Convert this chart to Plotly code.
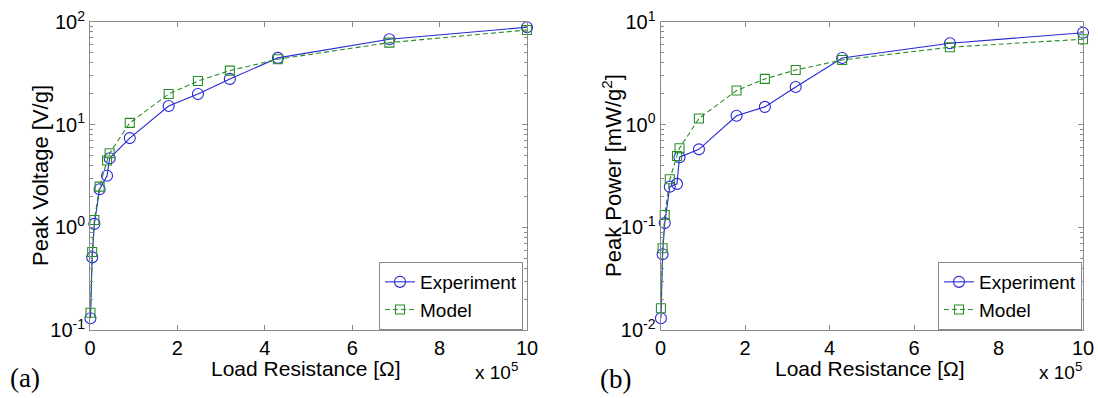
import plotly.graph_objects as go

# ---- data ----
resistance = [1e3, 5e3, 1e4, 2.2e4, 3.9e4, 4.5e4, 9.1e4, 1.8e5, 2.47e5, 3.2e5, 4.3e5, 6.85e5, 1e6]
voltage_exp = [0.13, 0.51, 1.08, 2.35, 3.18, 4.71, 7.4, 15.2, 19.9, 27.9, 44.7, 68, 89]
voltage_model = [0.147, 0.575, 1.18, 2.49, 4.47, 5.27, 10.4, 19.9, 26.6, 33.6, 43.4, 63, 83.6]
power_exp = [0.013, 0.0547, 0.11, 0.249, 0.265, 0.482, 0.575, 1.22, 1.49, 2.33, 4.46, 6.2, 7.87]
power_model = [0.0163, 0.0625, 0.132, 0.294, 0.496, 0.589, 1.15, 2.15, 2.79, 3.41, 4.27, 5.68, 6.8]

x_tickvals = [0, 2e5, 4e5, 6e5, 8e5, 1e6]
x_ticktext = ["0", "2", "4", "6", "8", "10"]

W, H = 1098, 398
FONT = "Liberation Sans, Arial, sans-serif"
SERIF = "Liberation Serif, Times New Roman, serif"
BLUE = "rgb(40,40,215)"
GREEN = "rgb(40,140,40)"
AXC = "#8a8a8a"


def px_x(p):
    return p / W


def px_y(p):
    return (H - p) / H


fig = go.Figure()

series = [
    ("x", "y", "legend", voltage_exp, voltage_model),
    ("x2", "y2", "legend2", power_exp, power_model),
]
for xa, ya, lg, exp_vals, mod_vals in series:
    fig.add_trace(go.Scatter(
        x=resistance, y=exp_vals, xaxis=xa, yaxis=ya, legend=lg,
        name="Experiment", mode="lines+markers", cliponaxis=False,
        line=dict(color=BLUE, width=1.1),
        marker=dict(symbol="circle-open", size=11, color=BLUE, line=dict(width=1.1)),
    ))
    fig.add_trace(go.Scatter(
        x=resistance, y=mod_vals, xaxis=xa, yaxis=ya, legend=lg,
        name="Model", mode="lines+markers", cliponaxis=False,
        line=dict(color=GREEN, width=1.1, dash="5px,3px"),
        marker=dict(symbol="square-open", size=9, color=GREEN, line=dict(width=1.1)),
    ))


def minor_vals(lo, hi):
    vals = []
    for k in range(lo, hi):
        for m in range(2, 10):
            vals.append(m * 10 ** k)
    return vals


def xaxis_cfg(domain, anchor):
    return dict(
        domain=domain, range=[0, 1e6], tickmode="array", anchor=anchor,
        tickvals=x_tickvals, ticktext=x_ticktext, automargin=False,
        showline=True, linecolor=AXC, linewidth=1, mirror="ticks",
        ticks="inside", ticklen=5, tickcolor=AXC, showgrid=False, zeroline=False,
        tickfont=dict(family=FONT, size=20, color="black"),
    )


def yaxis_cfg(lo, hi, anchor):
    vals = [10 ** k for k in range(lo, hi + 1)]
    txt = ["10<sup>%d</sup>" % k for k in range(lo, hi + 1)]
    return dict(
        domain=[px_y(330), px_y(22)], type="log", range=[lo, hi], anchor=anchor,
        tickmode="array", tickvals=vals, ticktext=txt, automargin=False,
        showline=True, linecolor=AXC, linewidth=1, mirror="ticks",
        ticks="inside", ticklen=5, tickcolor=AXC, showgrid=False, zeroline=False,
        tickfont=dict(family=FONT, size=20, color="black"),
        minor=dict(tickmode="array", tickvals=minor_vals(lo, hi), ticks="inside",
                   ticklen=3, tickcolor=AXC, showgrid=False),
    )


legend_style = dict(
    xanchor="right", yanchor="bottom", bgcolor="white", bordercolor=AXC, borderwidth=1,
    font=dict(family=FONT, size=19, color="black"), itemwidth=30, tracegroupgap=0,
)

fig.update_layout(
    width=W, height=H, margin=dict(l=0, r=0, t=0, b=0, autoexpand=False),
    paper_bgcolor="white", plot_bgcolor="white", showlegend=True,
    xaxis=xaxis_cfg([px_x(90), px_x(527)], "y"),
    xaxis2=xaxis_cfg([px_x(660.5), px_x(1083)], "y2"),
    yaxis=yaxis_cfg(-1, 2, "x"),
    yaxis2=yaxis_cfg(-2, 1, "x2"),
    legend=dict(x=px_x(523), y=px_y(330), **legend_style),
    legend2=dict(x=px_x(1082), y=px_y(330), **legend_style),
)

ann = []
# y titles
ann.append(dict(text="Peak Voltage [V/g]", x=px_x(40), y=px_y(176), textangle=-90,
                font=dict(family=FONT, size=22, color="black")))
ann.append(dict(text="Peak Power [mW/g<sup>2</sup>]", x=px_x(612), y=px_y(176), textangle=-90,
                font=dict(family=FONT, size=22, color="black")))
# x titles
ann.append(dict(text="Load Resistance [Ω]", x=px_x(306), y=px_y(368),
                font=dict(family=FONT, size=21, color="black")))
ann.append(dict(text="Load Resistance [Ω]", x=px_x(870), y=px_y(368),
                font=dict(family=FONT, size=21, color="black")))
# multipliers
ann.append(dict(text="x 10<sup>5</sup>", x=px_x(520), y=px_y(371), xanchor="right",
                font=dict(family=FONT, size=19, color="black")))
ann.append(dict(text="x 10<sup>5</sup>", x=px_x(1084), y=px_y(371), xanchor="right",
                font=dict(family=FONT, size=19, color="black")))
# panel labels
ann.append(dict(text="(a)", x=px_x(25), y=px_y(378),
                font=dict(family=SERIF, size=27, color="black")))
ann.append(dict(text="(b)", x=px_x(615), y=px_y(379),
                font=dict(family=SERIF, size=27, color="black")))

for a in ann:
    a.update(xref="paper", yref="paper", showarrow=False)
    a.setdefault("xanchor", "center")
    a.setdefault("yanchor", "middle")
fig.update_layout(annotations=ann)

fig.write_html("out.html")
